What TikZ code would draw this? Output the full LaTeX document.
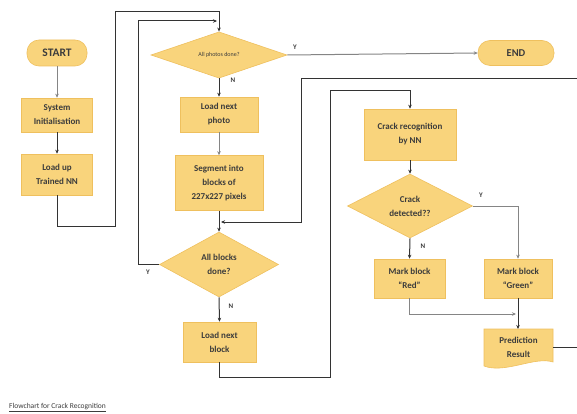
\documentclass[tikz,border=0pt]{standalone}
\usepackage{fontspec}
\setmainfont{Carlito}
\usetikzlibrary{shapes.geometric,arrows.meta}
\definecolor{boxfill}{HTML}{F9D47C}
\definecolor{boxline}{HTML}{EFC05E}
\definecolor{darkline}{HTML}{333333}
\definecolor{grayline}{HTML}{858585}
\definecolor{txt}{HTML}{3C3C3C}
\tikzset{
  box/.style={rectangle,fill=boxfill,draw=boxline,line width=0.6pt,align=center,
    font=\bfseries\fontsize{9}{14}\selectfont,text=txt,inner sep=0pt},
  term/.style={box,rounded corners=12pt,font=\bfseries\fontsize{11.5}{12}\selectfont},
  decide/.style={diamond,fill=boxfill,draw=boxline,line width=0.6pt,align=center,
    inner sep=0pt,font=\bfseries\fontsize{9}{14}\selectfont,text=txt},
  conn/.style={draw=darkline,line width=1pt,-{Stealth[length=4pt,width=3.5pt]}},
  gconn/.style={draw=grayline,line width=1pt,-{Stealth[length=4pt,width=3.5pt]}},
  lbl/.style={font=\bfseries\fontsize{7}{8}\selectfont,text=txt,inner sep=0pt}
}
\begin{document}
\begin{tikzpicture}[x=1pt,y=-1pt]
\fill[white] (0,0) rectangle (577,414);
\clip (0,0) rectangle (577,414);

% nodes
\node[term,minimum width=60pt,minimum height=26pt] (start) at (57,53) {START};
\node[term,minimum width=76pt,minimum height=25pt,font=\bfseries\fontsize{10.5}{12}\selectfont] (end) at (516,53) {END};
\node[box,minimum width=71pt,minimum height=34pt] (sys) at (57,115) {System\\Initialisation};
\node[box,minimum width=71pt,minimum height=41pt] (loadnn) at (57,174.5) {Load up\\Trained NN};
\node[decide,minimum width=136pt,minimum height=40pt,font=\fontsize{6}{7}\selectfont] (photos) at (219,55) {All photos done?};
\node[box,minimum width=78pt,minimum height=35pt] (loadphoto) at (219,114.5) {Load next\\photo};
\node[box,minimum width=88pt,minimum height=55pt] (segment) at (219,183) {Segment into\\blocks of\\227x227 pixels};
\node[decide,minimum width=119pt,minimum height=65pt] (blocks) at (219,264.5) {All blocks\\done?};
\node[box,minimum width=73pt,minimum height=40pt] (loadblock) at (219.5,342) {Load next\\block};
\node[box,minimum width=92pt,minimum height=51pt] (crack) at (410,134.5) {Crack recognition\\by NN};
\node[decide,minimum width=125pt,minimum height=64pt] (detected) at (410,206) {Crack\\detected??};
\node[box,minimum width=71pt,minimum height=39pt] (red) at (409.5,278.5) {Mark block\\``Red''};
\node[box,minimum width=68pt,minimum height=39pt] (green) at (518,278.5) {Mark block\\``Green''};
% document shape for prediction result
\fill[boxfill] (484,329) -- (553,329) -- (553,362) .. controls (535,356) and (505,374) .. (484,366) -- cycle;
\draw[boxline,line width=0.6pt] (484,329) -- (553,329) -- (553,362) .. controls (535,356) and (505,374) .. (484,366) -- cycle;
\node[align=center,font=\bfseries\fontsize{9}{14}\selectfont,text=txt,inner sep=0pt,minimum width=69pt,minimum height=36pt] (pred) at (518.5,347) {Prediction\\Result};

% connector points
\coordinate (c1) at (57,226);
\coordinate (c2) at (115,226);
\coordinate (c3) at (115,12);
\coordinate (c4) at (219,12);
\coordinate (y1) at (138,264.5);
\coordinate (y2) at (138,21);
\coordinate (y3) at (217,21);
\coordinate (r1) at (590,347);
\coordinate (r2) at (590,79);
\coordinate (r3) at (301,79);
\coordinate (r4) at (301,222);
\coordinate (r5) at (221,222);
\coordinate (b1) at (219.5,377);
\coordinate (b2) at (330,377);
\coordinate (b3) at (330,91);
\coordinate (b4) at (410,91);
\coordinate (d1) at (518,206);
\coordinate (m1) at (409.5,314);
\coordinate (m2) at (516,314);

% connectors
\draw[gconn] (start) -- (sys);
\draw[conn] (sys) -- (loadnn);
\draw[conn] (loadnn.south) -- (c1) -- (c2) -- (c3) -- (c4) -- (photos.north);
\draw[conn] (blocks.west) -- (y1) -- (y2) -- (y3);
\node[lbl] at (148,272) {Y};
\draw[gconn] (photos.east) -- (end.west);
\node[lbl] at (295,47) {Y};
\draw[conn] (photos.south) -- (loadphoto.north);
\node[lbl] at (233,80) {N};
\draw[gconn] (loadphoto) -- (segment);
\draw[conn] (segment) -- (blocks.north);
\draw[conn] (pred.east) -- (r1) -- (r2) -- (r3) -- (r4) -- (r5);
\draw[conn] (blocks.south) -- (loadblock.north);
\node[lbl] at (231,306) {N};
\draw[conn] (loadblock.south) -- (b1) -- (b2) -- (b3) -- (b4) -- (crack.north);
\draw[conn] (crack) -- (detected.north);
\draw[gconn] (detected.east) -- (d1) -- (green.north);
\node[lbl] at (481,195) {Y};
\draw[conn] (detected.south) -- (red.north);
\node[lbl] at (423,246) {N};
\draw[gconn] (red.south) -- (m1) -- (m2);
\draw[conn] (green.south) -- (518,329);

% caption
\node[anchor=west,font=\fontsize{7.5}{9}\selectfont,text=txt,inner sep=0pt] (cap) at (9,408) {\underline{Flowchart for Crack Recognition}};
\end{tikzpicture}
\end{document}
